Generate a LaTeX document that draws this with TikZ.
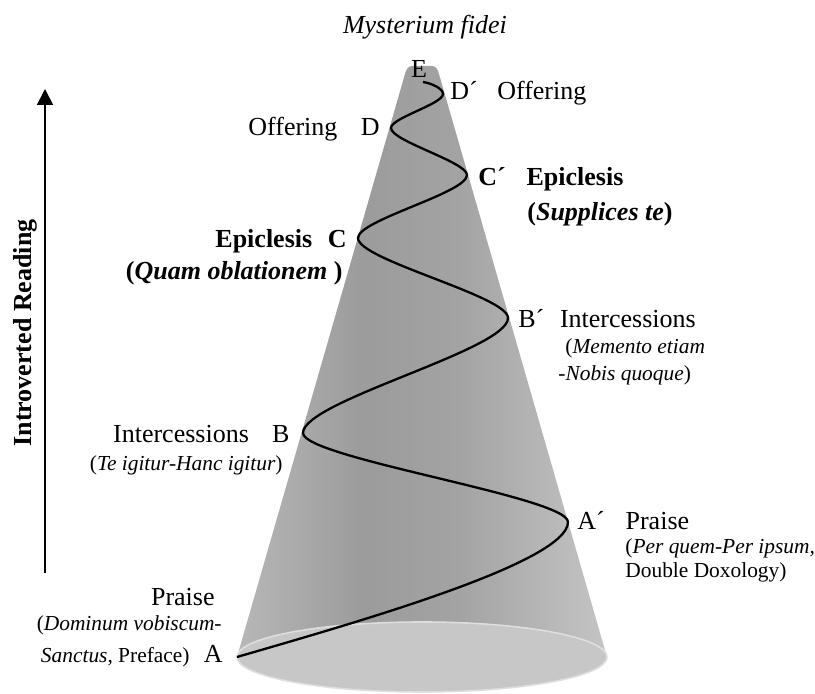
\documentclass[tikz,border=0pt]{standalone}
\usepackage{fontspec}
\setmainfont{Liberation Serif}
\usepackage{tikz}
\usetikzlibrary{arrows.meta}
\pgfdeclarehorizontalshading{conegrey}{100bp}{color(0bp)=(black!28); color(25bp)=(black!28);
  color(42bp)=(black!39); color(55bp)=(black!36); color(75bp)=(black!23); color(100bp)=(black!23)}
\tikzset{
    mainlab/.style={inner sep=0pt, font=\fontsize{13}{15}\selectfont},
    boldlab/.style={inner sep=0pt, font=\fontsize{13}{15}\selectfont\bfseries},
    sublab/.style={inner sep=0pt, font=\fontsize{10.7}{13.5}\selectfont},
    helix/.style={line width=1.15pt},
    arrow/.style={line width=0.9pt,-{Triangle[length=8pt,width=8pt]}}
}

\begin{document}
\begin{tikzpicture}[x=0.5pt, y=0.5pt]
\useasboundingbox (0,0) rectangle (815,-694);

% cone and base
\shade [shading=conegrey]
  (237,-657) -- (405,-74) to[out=75,in=180] (412,-66) -- (432,-66) to[out=0,in=105] (439,-74) -- (607,-657)
  arc [start angle=0, end angle=-180, x radius=92.5pt, y radius=17.5pt] -- cycle;
\filldraw [fill=black!22, draw=black!13, line width=0.8pt] (422,-657) ellipse [x radius=92.5pt, y radius=17.5pt];

% turning points of the spiral
\coordinate (pA)  at (237,-657);
\coordinate (pAp) at (568,-522);
\coordinate (pB)  at (303,-433);
\coordinate (pBp) at (508,-318);
\coordinate (pC)  at (358,-238);
\coordinate (pCp) at (467,-175);
\coordinate (pD)  at (391,-128);
\coordinate (pDp) at (443,-94);
\coordinate (pE)  at (423,-82);

\draw [helix] (pA) .. controls +(110,32) and +(0,-41) .. (pAp)
  .. controls +(0,25) and +(0,-25) .. (pB)
  .. controls +(0,32) and +(0,-32) .. (pBp)
  .. controls +(0,22) and +(0,-22) .. (pC)
  .. controls +(0,18) and +(0,-18) .. (pCp)
  .. controls +(0,13) and +(0,-13) .. (pD)
  .. controls +(0,10) and +(0,-10) .. (pDp)
  .. controls +(0,6) and +(7,-1) .. (pE);

% labels
\node [mainlab] (myst) at (425,-27) {\itshape Mysterium fidei};
\node [mainlab, anchor=base] (labE) at (419,-78) {E};
\node [mainlab, anchor=base west] (labDp) at (450,-100) {D´\hspace{0.75em}Offering};
\node [mainlab, anchor=base east] (labD) at (380,-136) {Offering\hspace{0.9em}D};
\node [boldlab, anchor=base west] (labCp) at (478,-186) {C´\hspace{0.8em}Epiclesis};
\node [boldlab, anchor=base west] (subCp) at (527,-221) {(\textit{Supplices te})};
\node [boldlab, anchor=base east] (labC) at (347,-248) {Epiclesis\hspace{0.6em}C};
\node [boldlab, anchor=base east] (subC) at (343,-280) {(\textit{Quam oblationem} )};
\node [mainlab, anchor=base west] (labBp) at (518,-328) {B´\hspace{0.6em}Intercessions};
\node [sublab, anchor=base west] (subBp) at (565,-354) {(\textit{Memento etiam}};
\node [sublab, anchor=base west] (subBpx) at (558,-381) {\textit{-Nobis quoque})};
\node [mainlab, anchor=base east] (labB) at (290,-443) {Intercessions\hspace{0.9em}B};
\node [sublab, anchor=base east] (subB) at (283,-471) {(\textit{Te igitur-Hanc igitur})};
\node [mainlab, anchor=base west] (labAp) at (577,-530) {A´\hspace{0.8em}Praise};
\node [sublab, anchor=base west] (subAp) at (625,-554) {(\textit{Per quem-Per ipsum,}};
\node [sublab, anchor=base west] (subApx) at (625,-578) {Double Doxology)};
\node [mainlab, anchor=base east] (labPraise) at (215,-606) {Praise};
\node [sublab, anchor=base east] (subA) at (222,-631) {(\textit{Dominum vobiscum-}};
\node [mainlab, anchor=base east] (labA) at (223,-663) {{\fontsize{10.7}{13.5}\selectfont\textit{Sanctus}, Preface)}\hspace{0.55em}A};

% reading direction
\coordinate (arrowfoot) at (45,-573);
\coordinate (arrowtip) at (45,-89);
\draw [arrow] (arrowfoot) -- (arrowtip);
\node [boldlab, rotate=90] (reading) at (25,-333) {Introverted Reading};

\end{tikzpicture}
\end{document}
